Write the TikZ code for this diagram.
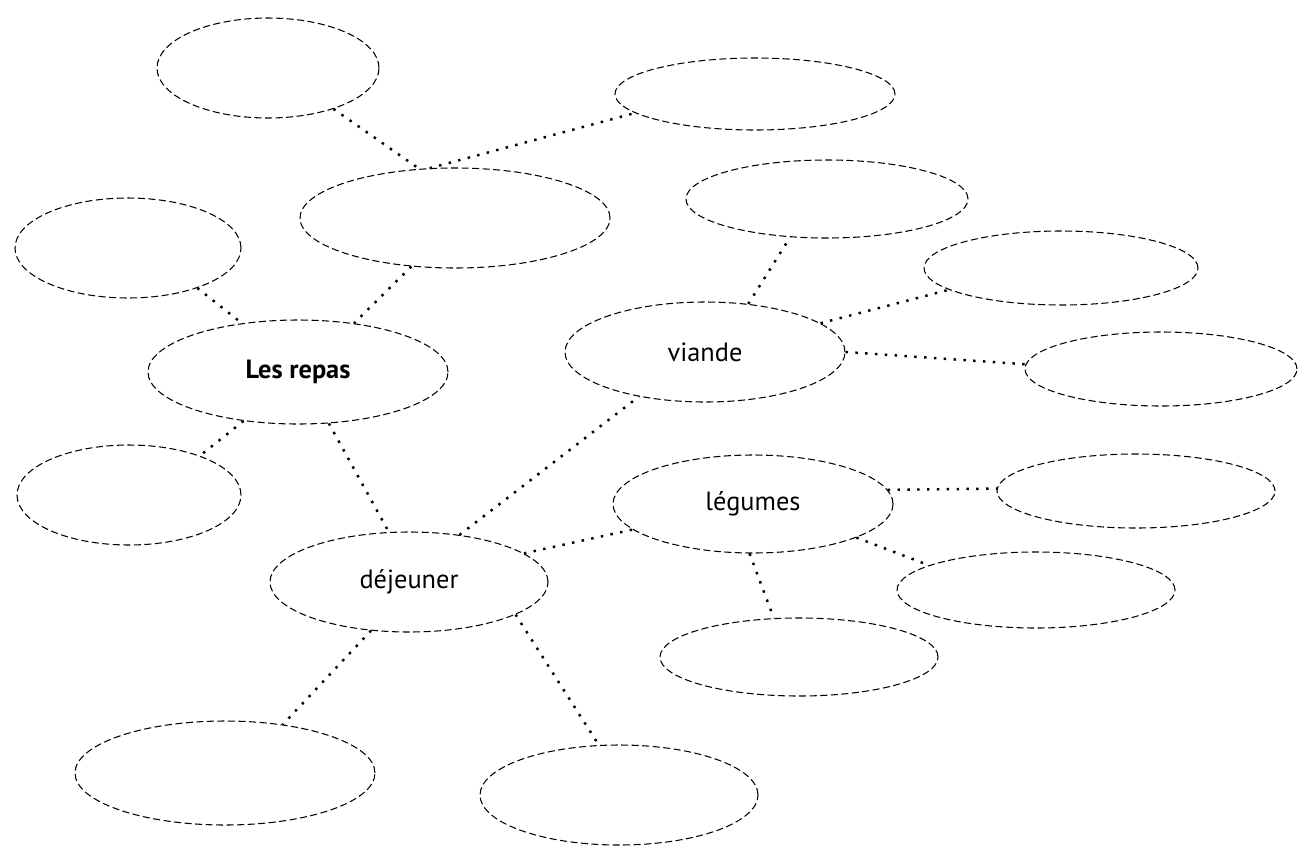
\documentclass[tikz,border=0pt]{standalone}
\usepackage{fontspec}
\setmainfont{PT Sans}
\usetikzlibrary{shapes.geometric}

\tikzset{
  bubble/.style 2 args={ellipse, draw, line width=0.6pt,
    dash pattern=on 4pt off 2pt, inner sep=0pt,
    minimum width={2*#1*0.02cm}, minimum height={2*#2*0.02cm},
    font=\fontsize{15}{18}\selectfont},
  link/.style={line width=1.4pt, dash pattern=on 1.4pt off 4.2pt}
}

\begin{document}
\begin{tikzpicture}[x=0.02cm, y=-0.02cm]
\useasboundingbox (0,0) rectangle (1298,849);

% -------------------------------------------------------
% 1. Main bubbles (with text)
% -------------------------------------------------------
\node[bubble={150}{52}] (repas)    at (298,372) {\textbf{Les repas}};
\node[bubble={139}{50}] (dejeuner) at (409,582) {déjeuner};
\node[bubble={140}{50}] (viande)   at (705,352) {viande};
\node[bubble={140}{49}] (legumes)  at (753,504) {légumes};

% -------------------------------------------------------
% 2. Empty bubbles
% -------------------------------------------------------
\node[bubble={111}{50}] (hautg)   at (268,68)   {};
\node[bubble={140}{36}] (hautd)   at (755,94)   {};
\node[bubble={155}{50}] (centre)  at (455,218)  {};
\node[bubble={113}{50}] (gauche)  at (128,248)  {};
\node[bubble={112}{50}] (gaucheb) at (129,495)  {};
\node[bubble={141}{39}] (viandea) at (827,199)  {};
\node[bubble={137}{37}] (viandeb) at (1061,268) {};
\node[bubble={136}{37}] (viandec) at (1161,369) {};
\node[bubble={139}{37}] (lega)    at (1136,491) {};
\node[bubble={139}{38}] (legb)    at (1036,590) {};
\node[bubble={139}{39}] (legc)    at (799,657)  {};
\node[bubble={150}{52}] (basg)    at (225,773)  {};
\node[bubble={139}{50}] (basm)    at (619,795)  {};

% -------------------------------------------------------
% 3. Dotted links
% -------------------------------------------------------
\draw[link] (hautg.-32)   -- (centre.126);
\draw[link] (centre.117)  -- (hautd.-171);
\draw[link] (gauche.-30)  -- (repas.139);
\draw[link] (centre.-132) -- (repas.41);
\draw[link] (repas.-138)  -- (gaucheb.29);
\draw[link] (repas.-59)   -- (dejeuner.112);

% lunch branches
\draw[link] (dejeuner.43)   -- (viande.-146);
\draw[link] (dejeuner.14)   -- (legumes.-168);
\draw[link] (dejeuner.-128) -- (basg.40);
\draw[link] (dejeuner.-17)  -- (basm.112);

% meat branches
\draw[link] (viande.48) -- (viandea.-134);
\draw[link] (viande.14) -- (viandeb.-169);
\draw[link] (viande.0)  -- (viandec.178);

% vegetable branches
\draw[link] (legumes.6)   -- (lega.179);
\draw[link] (legumes.-18) -- (legb.167);
\draw[link] (legumes.-94) -- (legc.123);

\end{tikzpicture}
\end{document}
